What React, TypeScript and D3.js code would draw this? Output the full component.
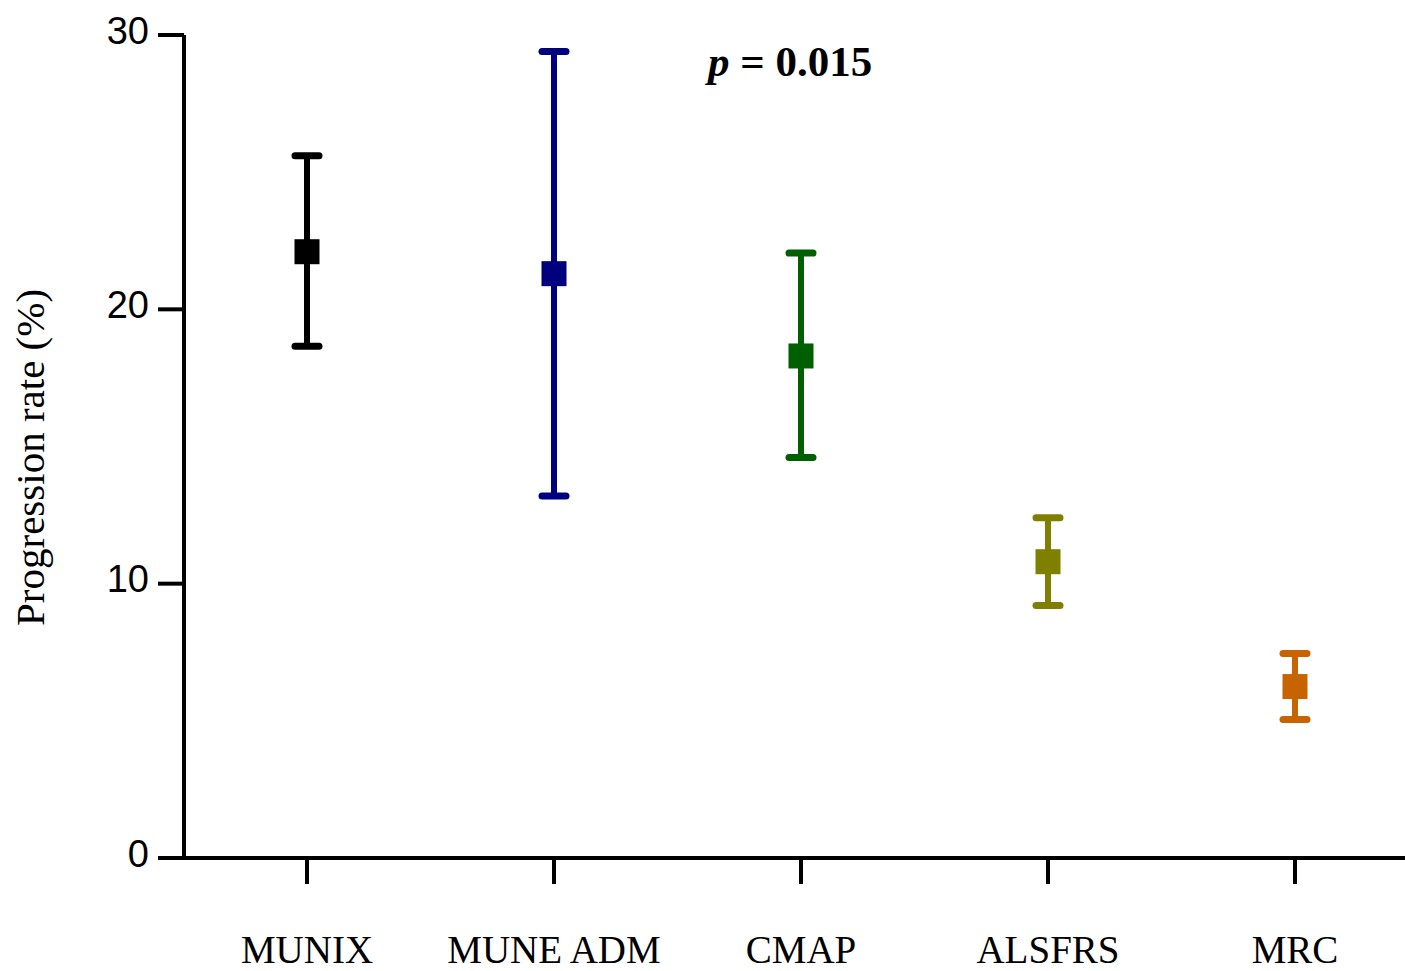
import * as d3 from "d3";
import React, { useEffect, useRef } from "react";

// progression rate per measure (mean with error bar limits)
const categories = ["MUNIX", "MUNE ADM", "CMAP", "ALSFRS", "MRC"];
const means = [22.1, 21.3, 18.3, 10.8, 6.25];
const lows = [18.65, 13.2, 14.6, 9.2, 5.05];
const highs = [25.6, 29.4, 22.05, 12.4, 7.45];
const colors = ["#000000", "#00007f", "#006000", "#7f7f00", "#c86400"];
const yTicks = [0, 10, 20, 30];

const App = () => {
  const svgRef = useRef<SVGSVGElement>(null);

  useEffect(() => {
    const svg = d3.select(svgRef.current);
    svg.selectAll("*").remove();

    const width = 1405;
    const height = 971;
    svg.attr("width", width).attr("height", height);

    const x = d3.scalePoint<string>().domain(categories).range([307, 1295]);
    const y = d3.scaleLinear().domain([0, 30]).range([858, 35]);
    const axisLeftX = 184;

    // y axis
    svg
      .append("line")
      .attr("x1", axisLeftX)
      .attr("x2", axisLeftX)
      .attr("y1", y(30))
      .attr("y2", y(0))
      .attr("stroke", "#000")
      .attr("stroke-width", 4);

    yTicks.forEach((t) => {
      svg
        .append("line")
        .attr("x1", axisLeftX - 26)
        .attr("x2", axisLeftX)
        .attr("y1", y(t))
        .attr("y2", y(t))
        .attr("stroke", "#000")
        .attr("stroke-width", 4);
      svg
        .append("text")
        .attr("x", 149)
        .attr("y", y(t) - 5)
        .attr("dy", "0.36em")
        .attr("text-anchor", "end")
        .attr("font-family", "Liberation Sans, Arial, sans-serif")
        .attr("font-size", 38)
        .text(t);
    });

    // x axis
    svg
      .append("line")
      .attr("x1", axisLeftX - 26)
      .attr("x2", width)
      .attr("y1", y(0))
      .attr("y2", y(0))
      .attr("stroke", "#000")
      .attr("stroke-width", 4);

    categories.forEach((c) => {
      svg
        .append("line")
        .attr("x1", x(c)!)
        .attr("x2", x(c)!)
        .attr("y1", y(0))
        .attr("y2", y(0) + 26)
        .attr("stroke", "#000")
        .attr("stroke-width", 4);
      svg
        .append("text")
        .attr("x", x(c)!)
        .attr("y", 963)
        .attr("text-anchor", "middle")
        .attr("font-family", "Liberation Serif, Times New Roman, serif")
        .attr("font-size", 39)
        .text(c);
    });

    // y axis title
    svg
      .append("text")
      .attr("transform", `translate(44,${y(14.6)}) rotate(-90)`)
      .attr("text-anchor", "middle")
      .attr("font-family", "Liberation Serif, Times New Roman, serif")
      .attr("font-size", 41)
      .text("Progression rate (%)");

    // error bars
    categories.forEach((c, i) => {
      const cx = x(c)!;
      const g = svg.append("g").attr("stroke", colors[i]).attr("fill", colors[i]);
      g.append("line")
        .attr("x1", cx)
        .attr("x2", cx)
        .attr("y1", y(highs[i]))
        .attr("y2", y(lows[i]))
        .attr("stroke-width", 6);
      [highs[i], lows[i]].forEach((v) => {
        g.append("line")
          .attr("x1", cx - 12)
          .attr("x2", cx + 12)
          .attr("y1", y(v))
          .attr("y2", y(v))
          .attr("stroke-width", 7)
          .attr("stroke-linecap", "round");
      });
      g.append("rect")
        .attr("x", cx - 12.5)
        .attr("y", y(means[i]) - 12.5)
        .attr("width", 25)
        .attr("height", 25)
        .attr("stroke", "none");
    });

    // p-value annotation
    const p = svg
      .append("text")
      .attr("x", 708)
      .attr("y", 76)
      .attr("font-family", "Liberation Serif, Times New Roman, serif")
      .attr("font-size", 43)
      .attr("font-weight", "bold");
    p.append("tspan").attr("font-style", "italic").text("p");
    p.append("tspan").text(" = 0.015");
  }, []);

  return <svg ref={svgRef} style={{ position: "absolute", left: 0, top: 0 }}></svg>;
};

export default App;
